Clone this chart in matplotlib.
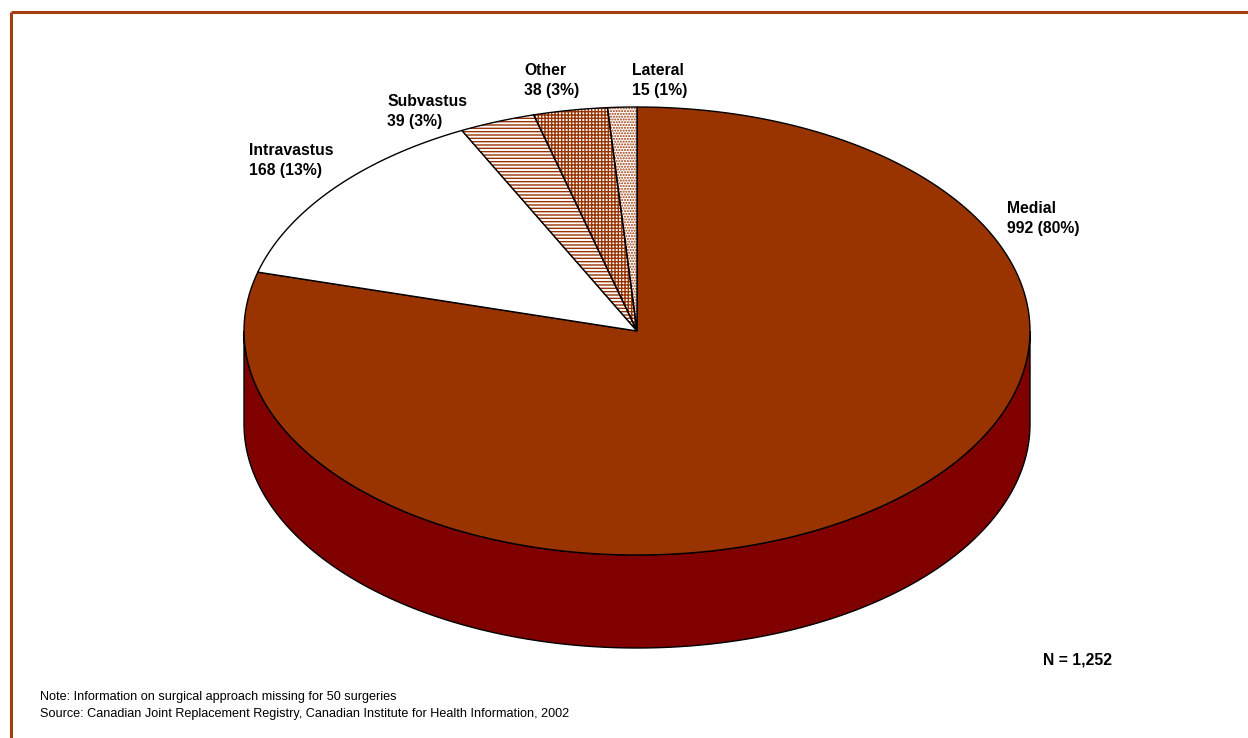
import matplotlib
matplotlib.use("Agg")
import matplotlib.pyplot as plt
import numpy as np
from matplotlib.patches import Polygon

plt.rcParams['font.family'] = ['Liberation Sans', 'DejaVu Sans']

categories = ["Medial", "Intravastus", "Subvastus", "Other", "Lateral"]
counts = [992, 168, 39, 38, 15]
pct_labels = [80, 13, 3, 3, 1]
note = "Note: Information on surgical approach missing for 50 surgeries"
source = "Source: Canadian Joint Replacement Registry, Canadian Institute for Health Information, 2002"

TOP = "#993300"
SIDE = "#800000"
# face, hatch pattern for each slice
styles = [
    (TOP, None),
    ("white", None),
    ("white", "-----"),
    ("white", "+++++"),
    ("white", "......"),
]

# pie geometry in pixel units
cx, cy = 637, 331
rx, ry = 393, 224
depth = 93


def arc(t0, t1, dy=0.0, n=200):
    t = np.radians(np.linspace(t0, t1, n))
    return np.column_stack([cx + rx * np.cos(t), cy - ry * np.sin(t) + dy])


fig = plt.figure(figsize=(12.48, 7.38), dpi=100)
ax = fig.add_axes([0, 0, 1, 1])
ax.set_xlim(0, 1248)
ax.set_ylim(738, 0)
ax.axis("off")

# side wall, front half of the disc
front = arc(180, 360)
back = arc(360, 180, dy=depth)
ax.add_patch(Polygon(np.vstack([front, back]), closed=True,
                     facecolor=SIDE, edgecolor="black", lw=1.0, zorder=1))

total = sum(counts)
start = 90.0
bounds = []
for v in counts:
    end = start - 360.0 * v / total
    bounds.append((start, end))
    start = end

for (t0, t1), (face, hatch) in zip(bounds, styles):
    pts = np.vstack([[cx, cy], arc(t0, t1)])
    if hatch:
        ax.add_patch(Polygon(pts, closed=True, facecolor=face,
                             edgecolor=TOP, hatch=hatch, lw=0, zorder=2))
        ax.add_patch(Polygon(pts, closed=True, fill=False,
                             edgecolor="black", lw=1.0, zorder=3))
    else:
        ax.add_patch(Polygon(pts, closed=True, facecolor=face,
                             edgecolor="black", lw=1.0, zorder=2))

# slice labels
label_pos = [(1007, 201), (249, 143), (387, 94), (524, 63), (632, 63)]
for (x, y), name, v, p in zip(label_pos, categories, counts, pct_labels):
    ax.text(x, y, f"{name}\n{v} ({p}%)", ha="left", va="top",
            fontsize=11.3, fontweight="bold", linespacing=1.45)

ax.text(40, 697, note, ha="left", va="center", fontsize=9.1)
ax.text(40, 714, source, ha="left", va="center", fontsize=9.1)
ax.text(1043, 660, f"N = {total:,}", ha="left", va="center",
        fontsize=11.3, fontweight="bold")

# frame on top and left edges
border = "#A33D12"
ax.plot([11, 1248], [11.5, 11.5], color=border, lw=2.2, solid_capstyle="butt")
ax.plot([11, 11], [11.5, 738], color=border, lw=2.2, solid_capstyle="butt")

fig.savefig("out.png", dpi=100)
